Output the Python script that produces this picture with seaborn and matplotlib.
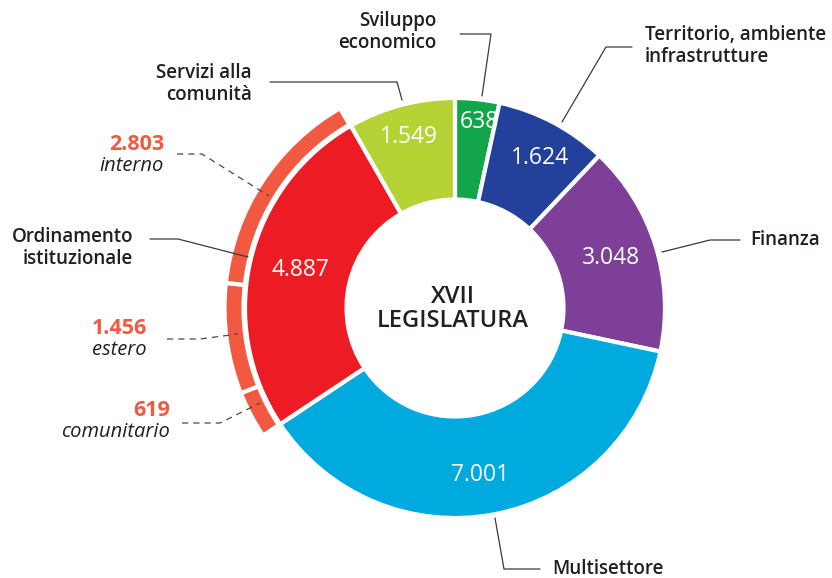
import matplotlib
matplotlib.use("Agg")
import matplotlib.pyplot as plt
import seaborn as sns

# ---- data ----
settori = ["Sviluppo economico", "Territorio, ambiente infrastrutture", "Finanza",
           "Multisettore", "Ordinamento istituzionale", "Servizi alla comunità"]
valori = [638, 1624, 3048, 7001, 4887, 1549]
colori = ["#12A54A", "#23409A", "#7D3F98", "#00AADF", "#ED1C24", "#B5D334"]

# breakdown of "Ordinamento istituzionale" (outer ring), clockwise from bottom
sotto_voci = ["comunitario", "estero", "interno"]
sotto_valori = [619, 1456, 2803]
arancio = "#F15A40"

titolo = ["XVII", "LEGISLATURA"]


def fmt(v):
    return f"{v:,}".replace(",", ".")


sns.set_style("white")
plt.rcParams["font.family"] = ["Open Sans", "DejaVu Sans"]

W, H = 832, 578
fig = plt.figure(figsize=(W / 100, H / 100), dpi=100)
ax = fig.add_axes([0, 0, 1, 1])


def Y(y):
    return H - y


cx, cy = 455, Y(308)
dark = "#231F20"

# main donut
wedges, _ = ax.pie(valori, colors=colori, startangle=90, counterclock=False,
                   radius=210, center=(cx, cy),
                   wedgeprops=dict(width=101.5, edgecolor="white", linewidth=3))

# outer ring for Ordinamento istituzionale
pre = sum(valori[:4])
post = sum(valori) - pre - sum(sotto_valori)
ring_vals = [pre] + sotto_valori + [post]
ring, _ = ax.pie(ring_vals, colors=["none"] + [arancio] * 3 + ["none"],
                 startangle=90, counterclock=False, radius=230.5, center=(cx, cy),
                 wedgeprops=dict(width=19, edgecolor="white", linewidth=3))
ring[0].set_visible(False)
ring[-1].set_visible(False)

ax.set_xlim(0, W)
ax.set_ylim(0, H)
ax.set_aspect("equal")
ax.axis("off")

# values inside wedges (text positions only)
val_pos = [(479, 122), (540, 158), (611, 258), (480, 475), (300, 270), (409, 137)]
for v, (x, y) in zip(valori, val_pos):
    ax.text(x, Y(y), fmt(v), color="white", fontsize=16.5, ha="center", va="center",
            fontweight="normal")

# centre title
for i, t in enumerate(titolo):
    ax.text(cx - 2, Y(297 + 24 * i), t, color=dark, fontsize=17, ha="center",
            va="center", fontweight="semibold")

# category labels: lines, anchor x, first y, alignment
lab_pos = [
    (["Sviluppo", "economico"], 436, 21, "right"),
    (["Territorio, ambiente", "infrastrutture"], 645, 35, "left"),
    (["Finanza"], 750, 240, "left"),
    (["Multisettore"], 552, 569, "left"),
    (["Ordinamento", "istituzionale"], 133, 237, "right"),
    (["Servizi alla", "comunità"], 252, 73, "right"),
]
for lines, x, y0, ha in lab_pos:
    for i, t in enumerate(lines):
        ax.text(x, Y(y0 + 22.5 * i), t, color=dark, fontsize=13.5, ha=ha,
                va="center", fontweight="semibold")

# leader lines
leaders = [
    [(460, 34), (491, 34), (482, 96)],
    [(632, 47), (606, 47), (562, 122)],
    [(740, 240), (710, 240), (662, 252)],
    [(495, 518), (504, 569), (540, 569)],
    [(150, 239), (178, 239), (248, 257)],
    [(270, 82), (397, 82), (402, 100)],
]
for pts in leaders:
    ax.plot([p[0] for p in pts], [Y(p[1]) for p in pts], color="#3a3a3a", lw=0.9)

# sub labels for the outer ring
sub_pos = [(170, 411), (147, 329), (164, 145)]
sub_leaders = [
    [(182, 423), (220, 423), (260, 403)],
    [(167, 339), (200, 339), (238, 334)],
    [(177, 154), (202, 154), (269, 196)],
]
for v, name, (x, y), pts in zip(sotto_valori, sotto_voci, sub_pos, sub_leaders):
    ax.text(x, Y(y), fmt(v), color=arancio, fontsize=15.5, ha="right", va="center",
            fontweight="bold")
    ax.text(x, Y(y + 21), name, color=dark, fontsize=14.5, ha="right", va="center",
            style="italic")
    ax.plot([p[0] for p in pts], [Y(p[1]) for p in pts], color="#4a4a4a", lw=0.9,
            dashes=(5, 4))

fig.savefig("out.png", dpi=100, facecolor="white")
